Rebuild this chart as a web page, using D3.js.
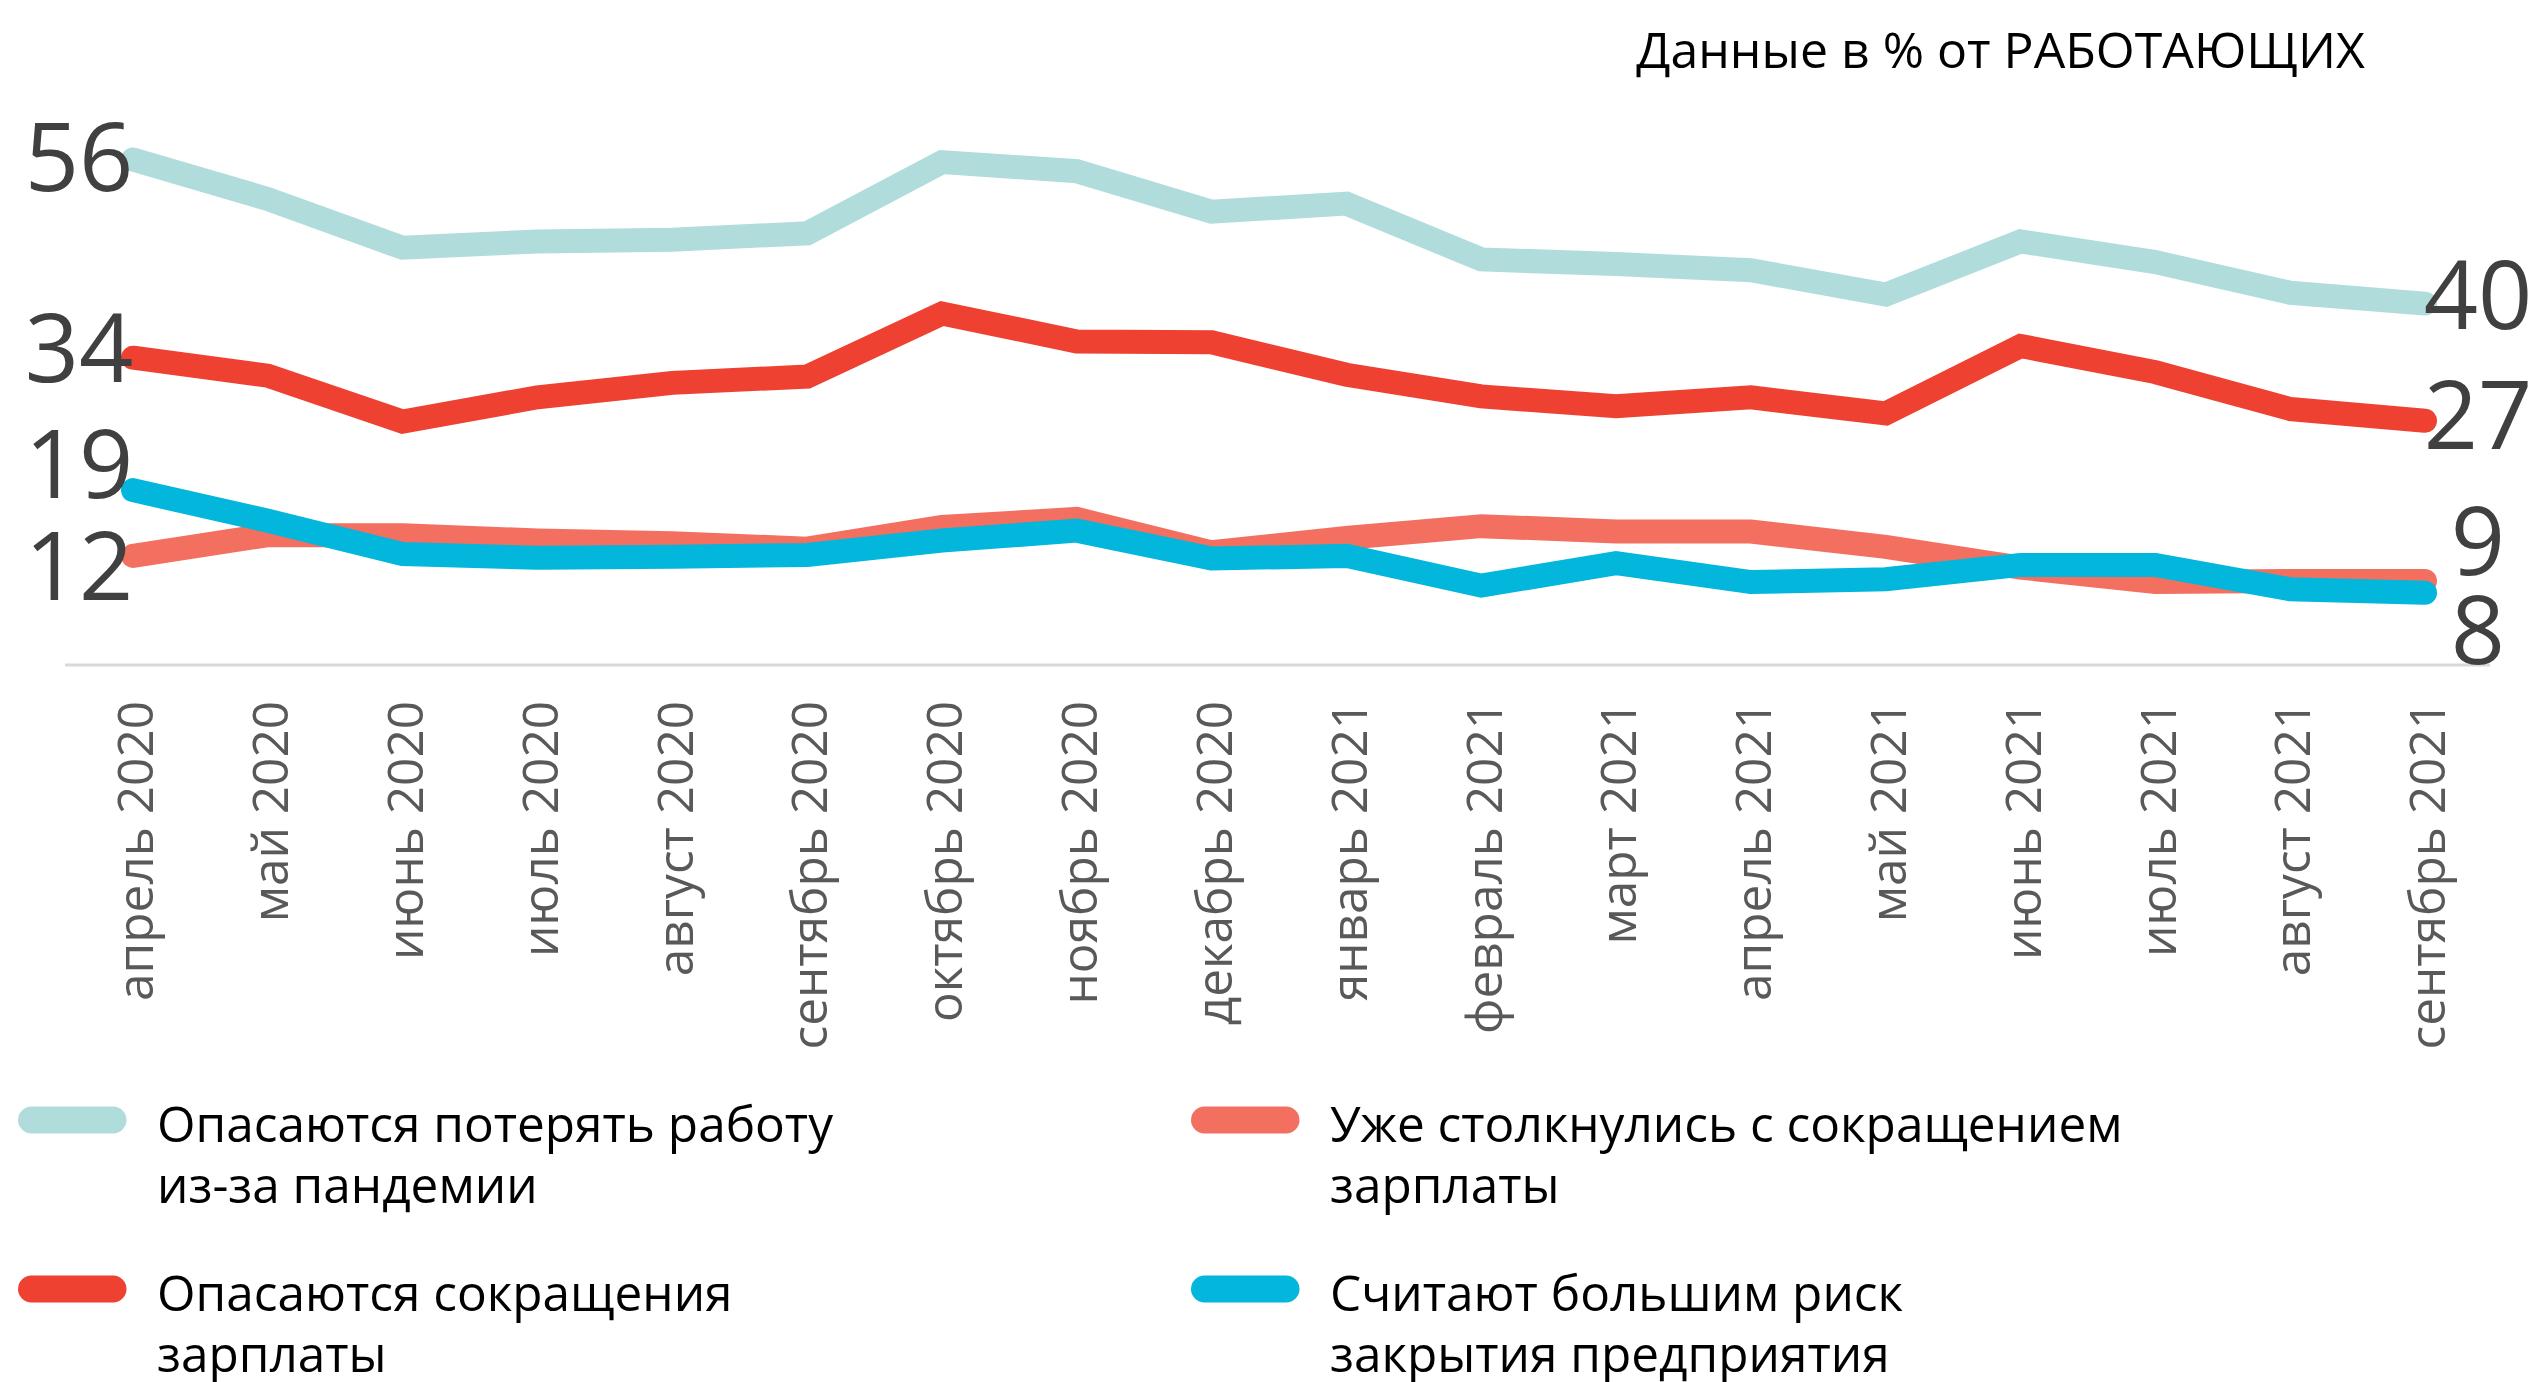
<!DOCTYPE html>
<html>
<head>
<meta charset="utf-8">
<script src="https://cdn.jsdelivr.net/npm/d3@7"></script>
<style>
  html, body { margin: 0; padding: 0; background: #ffffff; }
  svg { display: block; }
</style>
</head>
<body>
<svg id="chart" width="2535" height="1382"></svg>
<script>
// ---------------- DATA ----------------
const months = [
  "апрель 2020", "май 2020", "июнь 2020", "июль 2020", "август 2020", "сентябрь 2020",
  "октябрь 2020", "ноябрь 2020", "декабрь 2020", "январь 2021", "февраль 2021", "март 2021",
  "апрель 2021", "май 2021", "июнь 2021", "июль 2021", "август 2021", "сентябрь 2021"
];
const fearJobLoss   = [56, 51.6, 46.2, 46.9, 47.1, 47.8, 55.7, 54.7, 50.2, 51.1, 44.9, 44.4, 43.7, 41, 46.9, 44.6, 41.2, 40];
const fearPayCut    = [34, 32, 26.9, 29.6, 31.2, 31.9, 38.9, 35.8, 35.7, 32.1, 29.7, 28.6, 29.6, 27.8, 35.3, 32.4, 28.3, 27];
const facedPayCut   = [12, 14.3, 14.3, 13.7, 13.4, 12.8, 15.2, 16.1, 12.4, 14, 15.3, 14.7, 14.7, 13, 10.7, 9.1, 9.2, 9.2];
const closureRisk   = [19.3, 15.9, 12.2, 11.8, 11.9, 12.1, 13.7, 14.8, 11.7, 12, 8.7, 11.2, 9.1, 9.4, 11, 11, 8.3, 7.9];
const seriesNames = [
  ["Опасаются потерять работу", "из-за пандемии"],
  ["Опасаются сокращения", "зарплаты"],
  ["Уже столкнулись с сокращением", "зарплаты"],
  ["Считают большим риск", "закрытия предприятия"]
];
const titleText = "Данные в % от РАБОТАЮЩИХ";

// ---------------- STYLE / LAYOUT ----------------
const colors = ["#b1dcdc", "#ee4131", "#f37061", "#02b6dc"];
const seriesValues = [fearJobLoss, fearPayCut, facedPayCut, closureRisk];
// vertical nudges of end labels (px), in series order
const leftLabelShift  = [-2, -10, 10, -26];
const rightLabelShift = [-9, -6, -40, 37];
const legendPos = [
  {x: 18, y: 1120}, {x: 18, y: 1289}, {x: 1191, y: 1120}, {x: 1191, y: 1289}
];

const svg = d3.select("#chart");
const x = d3.scalePoint().domain(months).range([133, 2425]);
const y = d3.scaleLinear().domain([0, 60]).range([664, 123.4]);

// baseline
svg.append("line")
  .attr("x1", 65).attr("x2", 2490)
  .attr("y1", y(0) + 1).attr("y2", y(0) + 1)
  .attr("stroke", "#d9d9d9").attr("stroke-width", 3);

// x axis labels
const axis = d3.axisBottom(x).tickSize(0).tickPadding(0);
const gAxis = svg.append("g").attr("transform", `translate(0,${y(0)})`).call(axis);
gAxis.select(".domain").remove();
gAxis.selectAll("text")
  .attr("transform", "translate(0,37) rotate(-90)")
  .attr("x", 0).attr("y", 0).attr("dy", "0.4em")
  .attr("text-anchor", "end")
  .attr("fill", "#595959")
  .style("font-family", "'Open Sans', sans-serif")
  .style("font-size", "49.5px");

// lines
const line = d3.line().x((d, i) => x(months[i])).y(d => y(d));
svg.append("g").selectAll("path")
  .data(seriesValues)
  .join("path")
  .attr("d", d => line(d))
  .attr("fill", "none")
  .attr("stroke", (d, i) => colors[i])
  .attr("stroke-width", 24)
  .attr("stroke-linecap", "round")
  .attr("stroke-linejoin", "miter");

// end labels
const labelFont = 95;
const gLab = svg.append("g")
  .style("font-family", "'Open Sans', sans-serif")
  .style("font-size", labelFont + "px")
  .attr("fill", "#404040");
seriesValues.forEach((vals, i) => {
  const first = vals[0], last = vals[vals.length - 1];
  gLab.append("text")
    .attr("x", 79)
    .attr("y", y(first) + leftLabelShift[i] + 0.357 * labelFont)
    .attr("text-anchor", "middle")
    .text(Math.round(first));
  gLab.append("text")
    .attr("x", 2478)
    .attr("y", y(last) + rightLabelShift[i] + 0.357 * labelFont)
    .attr("text-anchor", "middle")
    .text(Math.round(last));
});

// title
svg.append("text")
  .attr("x", 2365).attr("y", 68)
  .attr("text-anchor", "end")
  .attr("fill", "#000")
  .style("font-family", "'Open Sans', sans-serif")
  .style("font-size", "50px")
  .text(titleText);

// legend
const gLeg = svg.append("g")
  .style("font-family", "'Open Sans', sans-serif")
  .style("font-size", "49.5px");
seriesNames.forEach((lines, i) => {
  const p = legendPos[i];
  gLeg.append("line")
    .attr("x1", p.x + 13.5).attr("x2", p.x + 95)
    .attr("y1", p.y).attr("y2", p.y)
    .attr("stroke", colors[i]).attr("stroke-width", 27)
    .attr("stroke-linecap", "round");
  const t = gLeg.append("text")
    .attr("x", p.x + 139).attr("y", p.y + 22)
    .attr("fill", "#000");
  lines.forEach((s, k) => {
    t.append("tspan").attr("x", p.x + 139).attr("dy", k === 0 ? 0 : 61).text(s);
  });
});
</script>
</body>
</html>
